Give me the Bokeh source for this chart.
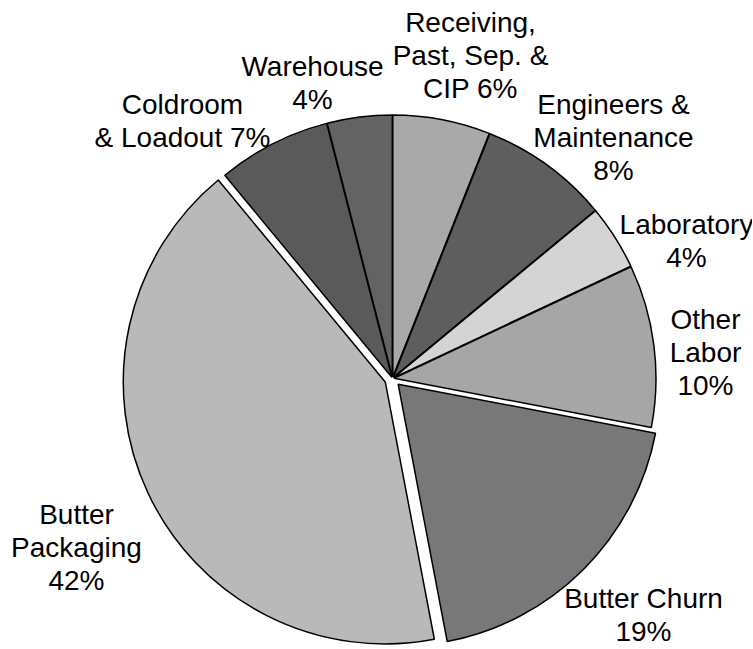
import math
from bokeh.plotting import figure
from bokeh.models import Range1d, ColumnDataSource
from bokeh.core.properties import value
from bokeh.embed import file_html
from bokeh.resources import INLINE

# ---- data ----
categories = ["Receiving, Past, Sep. & CIP", "Engineers & Maintenance", "Laboratory",
              "Other Labor", "Butter Churn", "Butter Packaging",
              "Coldroom & Loadout", "Warehouse"]
shares = [6, 8, 4, 10, 19, 42, 7, 4]
label_lines = [
    ["Receiving,", "Past, Sep. &", "CIP 6%"],
    ["Engineers &", "Maintenance", "8%"],
    ["Laboratory", "4%"],
    ["Other", "Labor", "10%"],
    ["Butter Churn", "19%"],
    ["Butter", "Packaging", "42%"],
    ["Coldroom", "& Loadout 7%"],
    ["Warehouse", "4%"],
]

# ---- styling / layout ----
colors = ["#a9a9a9", "#5e5e5e", "#d4d4d4", "#a6a6a6", "#787878", "#b9b9b9", "#5a5a5a", "#636363"]
explode = [1.5, 1.5, 1.5, 1.5, 8, 8, 1.5, 1.5]
label_pos = [(470, 33), (613, 115), (686, 235), (705, 330), (643, 609), (76, 525), (182, 115), (312, 77)]
text_shift = -11
line_gap = 33.0
cx, cy, R = 392, 378, 262

W, H = 752, 648
p = figure(width=W, height=H, output_backend="svg", toolbar_location=None,
           x_range=Range1d(0, W), y_range=Range1d(-H, 0),
           min_border=0, outline_line_color=None)
p.axis.visible = False
p.grid.visible = False

total = float(sum(shares))
cum = 0.0
xs, ys, sa, ea = [], [], [], []
for v, e in zip(shares, explode):
    f0 = cum / total
    f1 = (cum + v) / total
    fm = (f0 + f1) / 2
    m = math.pi / 2 - 2 * math.pi * fm
    xs.append(cx + e * math.cos(m))
    ys.append(-cy + e * math.sin(m))
    sa.append(math.pi / 2 - 2 * math.pi * f0)
    ea.append(math.pi / 2 - 2 * math.pi * f1)
    cum += v

src = ColumnDataSource(dict(x=xs, y=ys, start=sa, end=ea, color=colors, cat=categories))
p.wedge(x="x", y="y", radius=R, start_angle="start", end_angle="end", direction="clock",
        fill_color="color", line_color="black", line_width=1.5, source=src)

tx, ty, tt = [], [], []
for lines, (lx, ly) in zip(label_lines, label_pos):
    for i, t in enumerate(lines):
        tx.append(lx)
        ty.append(-(ly + text_shift + i * line_gap))
        tt.append(t)
p.text(x=tx, y=ty, text=tt, text_align="center", text_baseline="alphabetic",
       text_font=value("Liberation Sans"), text_font_size="28px", text_color="black")

open("out.html", "w").write(file_html(p, INLINE))
